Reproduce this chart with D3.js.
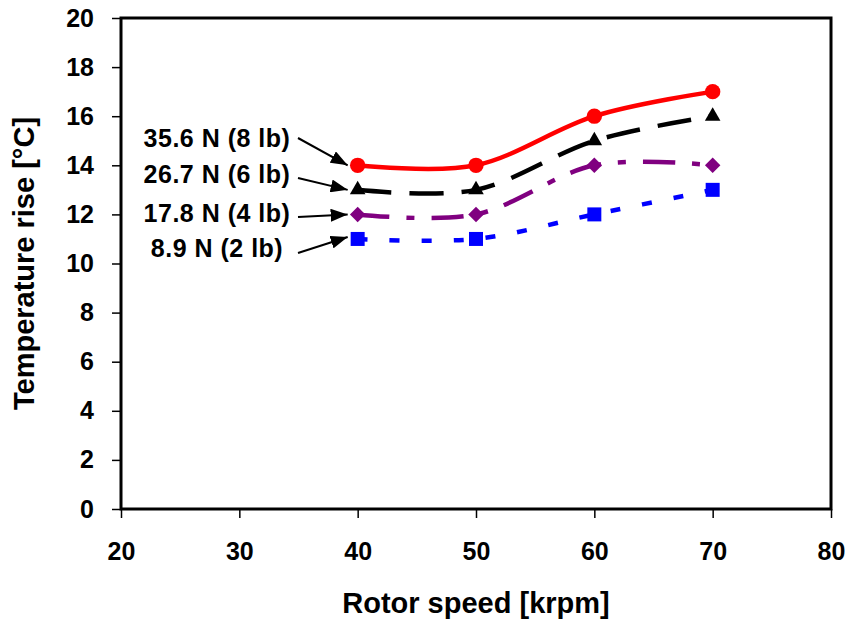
<!DOCTYPE html>
<html>
<head>
<meta charset="utf-8">
<script src="https://cdn.jsdelivr.net/npm/d3@7"></script>
<style>
  body { margin: 0; background: #fff; }
  svg { display: block; font-family: Arial, "Liberation Sans", sans-serif; font-weight: bold; }
</style>
</head>
<body>
<div id="chart"></div>
<script>
// data
const speeds = [40, 50, 60, 70];
const loadLabels = ['35.6 N (8 lb)', '26.7 N (6 lb)', '17.8 N (4 lb)', '8.9 N (2 lb)'];
const rise356 = [14, 14, 16, 17];
const rise267 = [13, 13, 15, 16];
const rise178 = [12, 12, 14, 14];
const rise89 = [11, 11, 12, 13];
const xTicks = [20, 30, 40, 50, 60, 70, 80];
const yTicks = [0, 2, 4, 6, 8, 10, 12, 14, 16, 18, 20];

const w = 850;
const h = 621;
const margin = { top: 18, right: 19, bottom: 112, left: 121 };

const series = [
    { name: loadLabels[0], values: rise356, color: '#ff0000', dash: null, symbol: 'circle', labelY: 147, dy: 0 },
    { name: loadLabels[1], values: rise267, color: '#000000', dash: '34,18', symbol: 'triangle', labelY: 183, dy: 0 },
    { name: loadLabels[2], values: rise178, color: '#800080', dash: '32,17,8,17', symbol: 'diamond', labelY: 222, dy: 0 },
    { name: loadLabels[3], values: rise89, color: '#0000ff', dash: '10,22', symbol: 'square', labelY: 257, dy: -2 }
];

const svg = d3.select('#chart')
    .append('svg')
    .attr('width', w)
    .attr('height', h);

// Scales
const xScale = d3.scaleLinear()
    .domain([20, 80])
    .range([margin.left, w - margin.right]);

const yScale = d3.scaleLinear()
    .domain([0, 20])
    .range([h - margin.bottom, margin.top]);

// Axes
const xAxis = d3.axisBottom(xScale)
    .tickValues(xTicks)
    .tickSize(9)
    .tickPadding(24)
    .tickFormat(d3.format('d'));

const yAxis = d3.axisLeft(yScale)
    .tickValues(yTicks)
    .tickSize(9)
    .tickPadding(18)
    .tickFormat(d3.format('d'));

const gx = svg.append('g')
    .attr('transform', `translate(0, ${h - margin.bottom})`)
    .call(xAxis);

const gy = svg.append('g')
    .attr('transform', `translate(${margin.left}, 0)`)
    .call(yAxis);

[gx, gy].forEach(g => {
    g.select('.domain').remove();
    g.selectAll('.tick line').attr('stroke', '#000').attr('stroke-width', 1.5);
    g.selectAll('.tick text')
        .attr('fill', '#000')
        .style('font-size', '25px')
        .style('font-weight', 'bold');
});

// plot frame
svg.append('rect')
    .attr('x', margin.left)
    .attr('y', margin.top)
    .attr('width', w - margin.left - margin.right)
    .attr('height', h - margin.top - margin.bottom)
    .attr('fill', 'none')
    .attr('stroke', '#000')
    .attr('stroke-width', 3);

// Axis titles
svg.append('text')
    .attr('x', (margin.left + w - margin.right) / 2)
    .attr('y', 613)
    .attr('text-anchor', 'middle')
    .style('font-size', '29px')
    .text('Rotor speed [krpm]');

svg.append('text')
    .attr('transform', `translate(34, ${(margin.top + h - margin.bottom) / 2}) rotate(-90)`)
    .attr('text-anchor', 'middle')
    .style('font-size', '29px')
    .text('Temperature rise [°C]');

// Lines
const line = d3.line()
    .x((d, i) => xScale(speeds[i]))
    .y(d => yScale(d))
    .curve(d3.curveCardinal.tension(0));

const symbols = {
    circle: d3.symbol(d3.symbolCircle, 185),
    triangle: d3.symbol(d3.symbolTriangle, 105),
    square: d3.symbol(d3.symbolSquare, 196),
    diamond: d3.symbol(d3.symbolSquare, 120)
};

series.forEach(s => {
    svg.append('path')
        .datum(s.values)
        .attr('d', line)
        .attr('fill', 'none')
        .attr('stroke', s.color)
        .attr('stroke-width', 4.5)
        .attr('stroke-dasharray', s.dash);

    svg.selectAll(null)
        .data(s.values)
        .enter()
        .append('path')
        .attr('d', symbols[s.symbol])
        .attr('transform', (d, i) => `translate(${xScale(speeds[i])}, ${yScale(d)})${s.symbol === 'diamond' ? ' rotate(45)' : ''}`)
        .attr('fill', s.color);
});

// Load labels with arrows
svg.append('defs')
    .append('marker')
    .attr('id', 'head')
    .attr('markerUnits', 'userSpaceOnUse')
    .attr('viewBox', '0 0 17 13')
    .attr('refX', 17)
    .attr('refY', 6.5)
    .attr('markerWidth', 17)
    .attr('markerHeight', 13)
    .attr('orient', 'auto')
    .append('path')
    .attr('d', 'M0,0 L17,6.5 L0,13 Z')
    .attr('fill', '#000');

series.forEach(s => {
    svg.append('text')
        .attr('x', 217)
        .attr('y', s.labelY)
        .attr('text-anchor', 'middle')
        .style('font-size', '25px')
        .style('letter-spacing', '0.5px')
        .text(s.name);

    const tx = xScale(speeds[0]) - 10;
    const ty = yScale(s.values[0]) + s.dy;
    svg.append('line')
        .attr('x1', 298)
        .attr('y1', s.labelY - 5 + (s.symbol === 'circle' ? -4 : s.symbol === 'square' ? 1 : 0))
        .attr('x2', tx)
        .attr('y2', ty)
        .attr('stroke', '#000')
        .attr('stroke-width', 2)
        .attr('marker-end', 'url(#head)');
});
</script>
</body>
</html>
